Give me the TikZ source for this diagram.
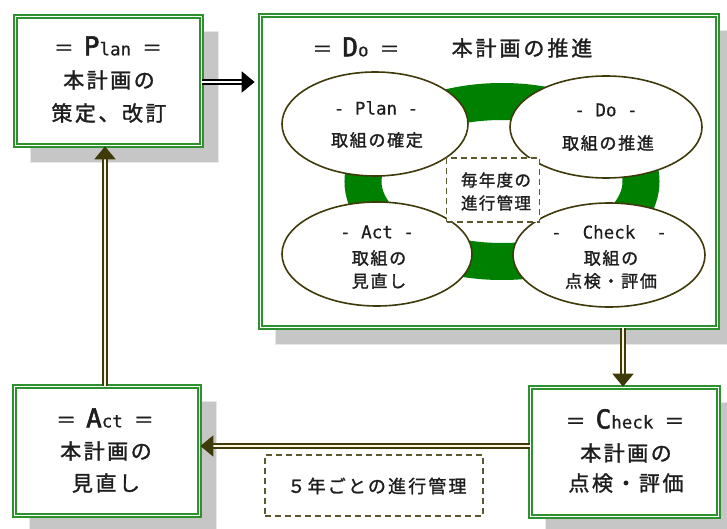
\documentclass[tikz,border=0pt]{standalone}
\usepackage{fontspec}
\setmainfont{Noto Sans CJK JP}
\newfontfamily\jp[LetterSpace=12,FakeBold=1.4]{Noto Sans CJK JP}
\newfontfamily\jpt[LetterSpace=14,FakeBold=1.4]{Noto Sans CJK JP}
\newfontfamily\jps[LetterSpace=10,FakeBold=1.4]{Noto Sans CJK JP}
\newfontfamily\jpy[LetterSpace=8,FakeBold=1.4]{Noto Sans CJK JP}
\newfontfamily\eqf[FakeBold=1]{Noto Sans CJK JP}
\newfontfamily\mono[FakeBold=0.6]{DejaVu Sans Mono}
\newfontfamily\monob[FakeBold=2.2]{DejaVu Sans Mono}
\usetikzlibrary{arrows.meta,shapes.geometric}
\pgfdeclarelayer{bg}
\pgfsetlayers{bg,main}
\definecolor{boxgreen}{RGB}{45,145,45}
\definecolor{ringgreen}{RGB}{0,128,0}
\definecolor{olivedark}{RGB}{62,58,10}
\definecolor{cream}{RGB}{250,245,220}
\definecolor{shadowgray}{RGB}{198,198,198}
\definecolor{ink}{RGB}{30,30,30}
\newcommand\szbox{\fontsize{21}{24}\selectfont\jp}
\newcommand\sztitle{\fontsize{21}{24}\selectfont\jpt}
\newcommand\szell{\fontsize{17}{20}\selectfont\jps}
\newcommand\szsmall{\fontsize{16.5}{19}\selectfont\jpy}
\newcommand\szlat{\fontsize{17.5}{20}\selectfont\mono}
\newcommand\capletter[1]{{\fontsize{26}{26}\selectfont\monob #1}}
\newcommand\eqs{{\fontsize{20}{22}\selectfont\eqf ＝}}
\begin{document}
\begin{tikzpicture}[x=1pt,y=-1pt,
  pdbox/.style={draw=boxgreen, double=white, double distance=1.8pt, line width=1.7pt, fill=white, inner sep=0pt},
  shadowbox/.style={fill=shadowgray, draw=gray!18, line width=1.2pt},
  ell/.style={ellipse, draw=olivedark, line width=1.6pt, fill=white, inner sep=0pt},
  dbox/.style={draw=olivedark!85, dash pattern=on 6pt off 4pt, line width=1.6pt, fill=white, inner sep=0pt},
  conn/.style={draw=olivedark, double=cream, double distance=2pt, line width=2pt, -{Triangle[length=13pt,width=21pt]}},
  connb/.style={draw=black, double=white, double distance=2pt, line width=2pt, -{Triangle[length=13pt,width=21pt]}},
  txt/.style={inner sep=0pt, anchor=center, text=ink}
]
\useasboundingbox (0,0) rectangle (727,529);

% boxes
\node[pdbox, minimum width=186pt, minimum height=129pt] (plan) at (108.5,81) {};
\node[pdbox, minimum width=457pt, minimum height=312pt] (do) at (489,171.5) {};
\node[pdbox, minimum width=185pt, minimum height=129pt] (act) at (107,451) {};
\node[pdbox, minimum width=188pt, minimum height=129pt] (check) at (624.5,452) {};

\begin{pgfonlayer}{bg}
\foreach \b in {plan,do,act,check}{
  \path[shadowbox] ([shift={(16,16)}]\b.north west) rectangle ([shift={(16,16)}]\b.south east);
}
\end{pgfonlayer}

% ring
\draw[ringgreen, line width=37pt] (502,181.5) ellipse [x radius=139, y radius=80];

% ellipses
\node[ell, minimum width=186pt, minimum height=104pt] (eplan) at (375,124) {};
\node[ell, minimum width=192pt, minimum height=102pt] (edo) at (606,127) {};
\node[ell, minimum width=190pt, minimum height=104pt] (eact) at (377,254) {};
\node[ell, minimum width=192pt, minimum height=104pt] (echeck) at (609,255) {};

\node[dbox, minimum width=93pt, minimum height=64pt] (yearly) at (493,190) {};
\node[dbox, minimum width=218pt, minimum height=61pt] (five) at (374,485.5) {};

% texts: Plan box
\node[txt] (plan1) at (108,46) {\eqs\hspace{10pt}\capletter{P}\szlat lan\hspace{11pt}\eqs};
\node[txt] (plan2) at (109,80) {\szbox 本計画の};
\node[txt] (plan3) at (109,113) {\szbox 策定、改訂};
% Do box
\node[txt] (do1) at (356,47) {\eqs\hspace{10pt}\capletter{D}\szlat o\hspace{11pt}\eqs};
\node[txt] (do2) at (522,48) {\sztitle 本計画の推進};
% Act box
\node[txt] (act1) at (105,418) {\eqs\hspace{10pt}\capletter{A}\szlat ct\hspace{11pt}\eqs};
\node[txt] (act2) at (106,451) {\szbox 本計画の};
\node[txt] (act3) at (106,483) {\szbox 見直し};
% Check box
\node[txt] (check1) at (625,419) {\eqs\hspace{10pt}\capletter{C}\szlat heck\hspace{11pt}\eqs};
\node[txt] (check2) at (626,453) {\szbox 本計画の};
\node[txt] (check3) at (626,483) {\szbox 点検・評価};
% ellipse texts
\node[txt] (ep1) at (376,108) {\szlat - Plan -};
\node[txt] (ep2) at (377,140) {\szell 取組の確定};
\node[txt] (ed1) at (606,110) {\szlat - Do -};
\node[txt] (ed2) at (608,143) {\szell 取組の推進};
\node[txt] (ea1) at (377,232) {\szlat - Act -};
\node[txt] (ea2) at (379,258) {\szell 取組の};
\node[txt] (ea3) at (379,281) {\szell 見直し};
\node[txt] (ec1) at (609,232) {\szlat -\ \ Check\ \ -};
\node[txt] (ec2) at (611,258) {\szell 取組の};
\node[txt] (ec3) at (611,281) {\szell 点検・評価};
% dashed box texts
\node[txt] (y1) at (496,180) {\szsmall 毎年度の};
\node[txt] (y2) at (496,203) {\szsmall 進行管理};
\node[txt] (f1) at (377,486) {\fontsize{18}{20}\selectfont\jp ５年ごとの進行管理};

% connectors
\coordinate (dstart) at ([xshift=-1.5pt]check.north |- do.south);
\draw[connb, shorten >=5pt] (plan.east |- 0,82) -- (do.west |- 0,82);
\draw[conn] (dstart) -- (dstart |- check.north);
\draw[conn] (act.north -| 105,0) -- (plan.south -| 105,0);
\draw[conn] (check.west |- 0,446) -- (act.east |- 0,446);
\end{tikzpicture}
\end{document}
